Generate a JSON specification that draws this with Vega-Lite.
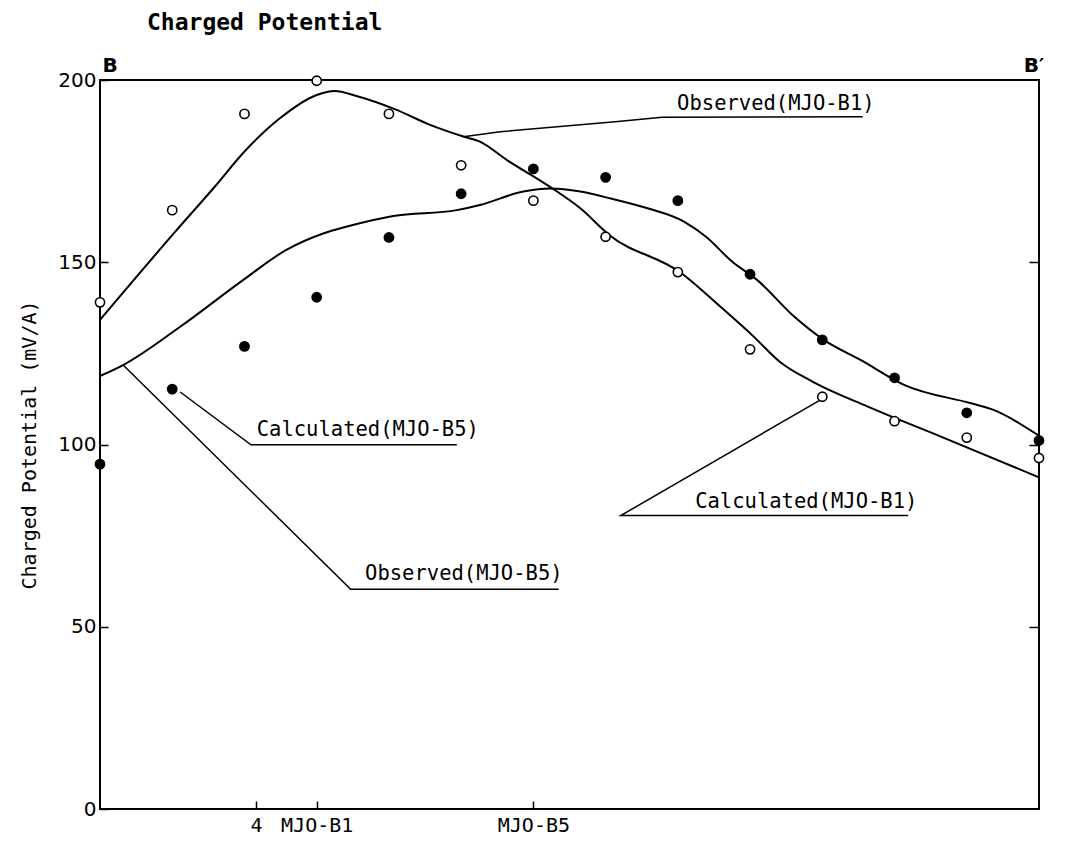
{
  "$schema": "https://vega.github.io/schema/vega-lite/v6.json",
  "width": 939,
  "height": 729,
  "autosize": {"type": "none"},
  "padding": {"left": 100, "top": 80, "right": 38, "bottom": 37},
  "background": "white",
  "title": {
    "text": "Charged Potential",
    "anchor": "start",
    "frame": "group",
    "dx": 47,
    "offset": 21,
    "font": "DejaVu Sans Mono",
    "fontSize": 23,
    "fontWeight": "bold",
    "color": "black"
  },
  "config": {
    "view": {"stroke": "black", "strokeWidth": 2},
    "axis": {"domain": false, "grid": false, "tickColor": "black", "labelColor": "black", "titleColor": "black", "labelFont": "DejaVu Sans", "titleFont": "DejaVu Sans Mono"}
  },
  "datasets": {
    "curves": [
      {"series": "Observed(MJO-B1)", "s": 0, "v": 134.2},
      {"series": "Observed(MJO-B1)", "s": 1.06, "v": 158.8},
      {"series": "Observed(MJO-B1)", "s": 1.57, "v": 170.3},
      {"series": "Observed(MJO-B1)", "s": 2.02, "v": 180.8},
      {"series": "Observed(MJO-B1)", "s": 2.49, "v": 189.5},
      {"series": "Observed(MJO-B1)", "s": 3.0, "v": 195.9},
      {"series": "Observed(MJO-B1)", "s": 3.25, "v": 197.0},
      {"series": "Observed(MJO-B1)", "s": 3.55, "v": 195.6},
      {"series": "Observed(MJO-B1)", "s": 4.08, "v": 192.0},
      {"series": "Observed(MJO-B1)", "s": 4.57, "v": 187.7},
      {"series": "Observed(MJO-B1)", "s": 5.03, "v": 184.5},
      {"series": "Observed(MJO-B1)", "s": 5.26, "v": 183.1},
      {"series": "Observed(MJO-B1)", "s": 5.63, "v": 178.1},
      {"series": "Observed(MJO-B1)", "s": 6.23, "v": 170.7},
      {"series": "Observed(MJO-B1)", "s": 6.65, "v": 164.8},
      {"series": "Observed(MJO-B1)", "s": 7.05, "v": 157.5},
      {"series": "Observed(MJO-B1)", "s": 8.05, "v": 147.0},
      {"series": "Observed(MJO-B1)", "s": 8.59, "v": 137.8},
      {"series": "Observed(MJO-B1)", "s": 9.05, "v": 129.6},
      {"series": "Observed(MJO-B1)", "s": 9.41, "v": 122.7},
      {"series": "Observed(MJO-B1)", "s": 9.87, "v": 117.2},
      {"series": "Observed(MJO-B1)", "s": 10.63, "v": 110.4},
      {"series": "Observed(MJO-B1)", "s": 11.65, "v": 102.1},
      {"series": "Observed(MJO-B1)", "s": 13, "v": 91.0},
      {"series": "Observed(MJO-B5)", "s": 0, "v": 118.8},
      {"series": "Observed(MJO-B5)", "s": 0.32, "v": 121.8},
      {"series": "Observed(MJO-B5)", "s": 1.11, "v": 132.3},
      {"series": "Observed(MJO-B5)", "s": 1.98, "v": 145.1},
      {"series": "Observed(MJO-B5)", "s": 2.58, "v": 153.4},
      {"series": "Observed(MJO-B5)", "s": 3.09, "v": 157.9},
      {"series": "Observed(MJO-B5)", "s": 3.42, "v": 159.8},
      {"series": "Observed(MJO-B5)", "s": 4.06, "v": 162.7},
      {"series": "Observed(MJO-B5)", "s": 4.94, "v": 164.3},
      {"series": "Observed(MJO-B5)", "s": 5.26, "v": 165.7},
      {"series": "Observed(MJO-B5)", "s": 5.86, "v": 169.4},
      {"series": "Observed(MJO-B5)", "s": 6.24, "v": 170.2},
      {"series": "Observed(MJO-B5)", "s": 6.65, "v": 169.4},
      {"series": "Observed(MJO-B5)", "s": 7.07, "v": 167.5},
      {"series": "Observed(MJO-B5)", "s": 7.58, "v": 164.8},
      {"series": "Observed(MJO-B5)", "s": 8.09, "v": 161.1},
      {"series": "Observed(MJO-B5)", "s": 8.39, "v": 157.0},
      {"series": "Observed(MJO-B5)", "s": 8.75, "v": 150.2},
      {"series": "Observed(MJO-B5)", "s": 9.10, "v": 145.1},
      {"series": "Observed(MJO-B5)", "s": 9.61, "v": 135.1},
      {"series": "Observed(MJO-B5)", "s": 10.02, "v": 128.7},
      {"series": "Observed(MJO-B5)", "s": 10.53, "v": 123.2},
      {"series": "Observed(MJO-B5)", "s": 11.14, "v": 116.3},
      {"series": "Observed(MJO-B5)", "s": 12.06, "v": 111.3},
      {"series": "Observed(MJO-B5)", "s": 12.37, "v": 109.5},
      {"series": "Observed(MJO-B5)", "s": 13, "v": 102.4}
    ],
    "points": [
      {"series": "Calculated(MJO-B1)", "station": 0, "v": 139.0},
      {"series": "Calculated(MJO-B1)", "station": 1, "v": 164.3},
      {"series": "Calculated(MJO-B1)", "station": 2, "v": 190.7},
      {"series": "Calculated(MJO-B1)", "station": 3, "v": 199.8},
      {"series": "Calculated(MJO-B1)", "station": 4, "v": 190.7},
      {"series": "Calculated(MJO-B1)", "station": 5, "v": 176.6},
      {"series": "Calculated(MJO-B1)", "station": 6, "v": 166.9},
      {"series": "Calculated(MJO-B1)", "station": 7, "v": 157.0},
      {"series": "Calculated(MJO-B1)", "station": 8, "v": 147.3},
      {"series": "Calculated(MJO-B1)", "station": 9, "v": 126.1},
      {"series": "Calculated(MJO-B1)", "station": 10, "v": 113.1},
      {"series": "Calculated(MJO-B1)", "station": 11, "v": 106.4},
      {"series": "Calculated(MJO-B1)", "station": 12, "v": 101.9},
      {"series": "Calculated(MJO-B1)", "station": 13, "v": 96.3},
      {"series": "Calculated(MJO-B5)", "station": 0, "v": 94.6},
      {"series": "Calculated(MJO-B5)", "station": 1, "v": 115.2},
      {"series": "Calculated(MJO-B5)", "station": 2, "v": 126.9},
      {"series": "Calculated(MJO-B5)", "station": 3, "v": 140.4},
      {"series": "Calculated(MJO-B5)", "station": 4, "v": 156.8},
      {"series": "Calculated(MJO-B5)", "station": 5, "v": 168.8},
      {"series": "Calculated(MJO-B5)", "station": 6, "v": 175.6},
      {"series": "Calculated(MJO-B5)", "station": 7, "v": 173.3},
      {"series": "Calculated(MJO-B5)", "station": 8, "v": 166.9},
      {"series": "Calculated(MJO-B5)", "station": 9, "v": 146.7},
      {"series": "Calculated(MJO-B5)", "station": 10, "v": 128.7},
      {"series": "Calculated(MJO-B5)", "station": 11, "v": 118.3},
      {"series": "Calculated(MJO-B5)", "station": 12, "v": 108.7},
      {"series": "Calculated(MJO-B5)", "station": 13, "v": 101.1}
    ],
    "leaders": [
      {"grp": "a", "ord": 0, "s": 5.03, "v": 184.4},
      {"grp": "a", "ord": 1, "s": 5.54, "v": 185.8},
      {"grp": "a", "ord": 2, "s": 7.17, "v": 188.6},
      {"grp": "a", "ord": 3, "s": 7.78, "v": 189.8},
      {"grp": "a", "ord": 4, "s": 10.56, "v": 189.9},
      {"grp": "b", "ord": 0, "s": 1.11, "v": 114.4},
      {"grp": "b", "ord": 1, "s": 2.09, "v": 99.9},
      {"grp": "b", "ord": 2, "s": 4.94, "v": 99.9},
      {"grp": "c", "ord": 0, "s": 0.32, "v": 121.8},
      {"grp": "c", "ord": 1, "s": 3.47, "v": 60.3},
      {"grp": "c", "ord": 2, "s": 6.35, "v": 60.3},
      {"grp": "d", "ord": 0, "s": 9.97, "v": 112.2},
      {"grp": "d", "ord": 1, "s": 7.21, "v": 80.5},
      {"grp": "d", "ord": 2, "s": 11.19, "v": 80.5}
    ],
    "labels": [
      {"label": "Observed(MJO-B1)", "s": 7.99, "v": 193.4},
      {"label": "Calculated(MJO-B5)", "s": 2.17, "v": 103.9},
      {"label": "Observed(MJO-B5)", "s": 3.67, "v": 64.5},
      {"label": "Calculated(MJO-B1)", "s": 8.24, "v": 84.3}
    ],
    "ends": [
      {"label": "B", "s": 0.14, "v": 203.8},
      {"label": "B′", "s": 12.93, "v": 203.9}
    ]
  },
  "layer": [
    {
      "data": {"name": "curves"},
      "mark": {"type": "line", "color": "black", "strokeWidth": 2, "interpolate": "monotone"},
      "encoding": {
        "x": {
          "field": "s", "type": "quantitative",
          "scale": {"domain": [0, 13], "nice": false, "zero": false},
          "axis": {
            "title": null, "orient": "bottom",
            "values": [2.16, 3, 6],
            "labelExpr": "datum.value == 3 ? 'MJO-B1' : (datum.value == 6 ? 'MJO-B5' : '4')",
            "tickSize": -8, "tickWidth": 1.5, "labelPadding": 14,
            "labelFont": "DejaVu Sans Mono",
            "labelFontSize": 20, "labelFlush": false, "labelOverlap": false
          }
        },
        "y": {
          "field": "v", "type": "quantitative",
          "scale": {"domain": [0, 200], "nice": false},
          "axis": {
            "title": "Charged Potential (mV/A)", "orient": "left",
            "values": [0, 50, 100, 150, 200],
            "tickSize": -8, "tickWidth": 1.5, "labelPadding": 12,
            "labelFontSize": 20, "titleFontSize": 20, "titleFontWeight": "normal",
            "titlePadding": 18
          }
        },
        "detail": {"field": "series"}
      }
    },
    {
      "data": {"name": "leaders"},
      "mark": {"type": "line", "color": "black", "strokeWidth": 1.5},
      "encoding": {
        "x": {"field": "s", "type": "quantitative"},
        "y": {"field": "v", "type": "quantitative", "axis": null},
        "detail": {"field": "grp"},
        "order": {"field": "ord", "type": "quantitative"}
      }
    },
    {
      "data": {"name": "points"},
      "mark": {"type": "point", "shape": "circle", "filled": true, "stroke": "black", "strokeWidth": 1.6, "size": 85, "opacity": 1},
      "encoding": {
        "x": {"field": "station", "type": "quantitative"},
        "y": {"field": "v", "type": "quantitative", "axis": null},
        "fill": {
          "field": "series", "type": "nominal",
          "scale": {"domain": ["Calculated(MJO-B1)", "Calculated(MJO-B5)"], "range": ["white", "black"]},
          "legend": null
        }
      }
    },
    {
      "data": {"name": "labels"},
      "mark": {"type": "text", "align": "left", "baseline": "middle", "font": "DejaVu Sans Mono", "fontSize": 20.5, "color": "black"},
      "encoding": {
        "x": {"field": "s", "type": "quantitative"},
        "y": {"field": "v", "type": "quantitative", "axis": null},
        "text": {"field": "label"}
      }
    },
    {
      "data": {"name": "ends"},
      "mark": {"type": "text", "align": "center", "baseline": "middle", "font": "DejaVu Sans", "fontSize": 20, "fontWeight": "bold", "color": "black"},
      "encoding": {
        "x": {"field": "s", "type": "quantitative"},
        "y": {"field": "v", "type": "quantitative", "axis": null},
        "text": {"field": "label"}
      }
    },
    {
      "data": {"name": "points"},
      "mark": {"type": "point", "opacity": 0},
      "encoding": {
        "x": {"field": "station", "type": "quantitative"},
        "y": {
          "field": "v", "type": "quantitative",
          "axis": {"orient": "right", "title": null, "labels": false, "values": [50, 100, 150], "tickSize": -10, "tickWidth": 1.5}
        }
      }
    }
  ],
  "resolve": {"axis": {"y": "independent"}}
}
